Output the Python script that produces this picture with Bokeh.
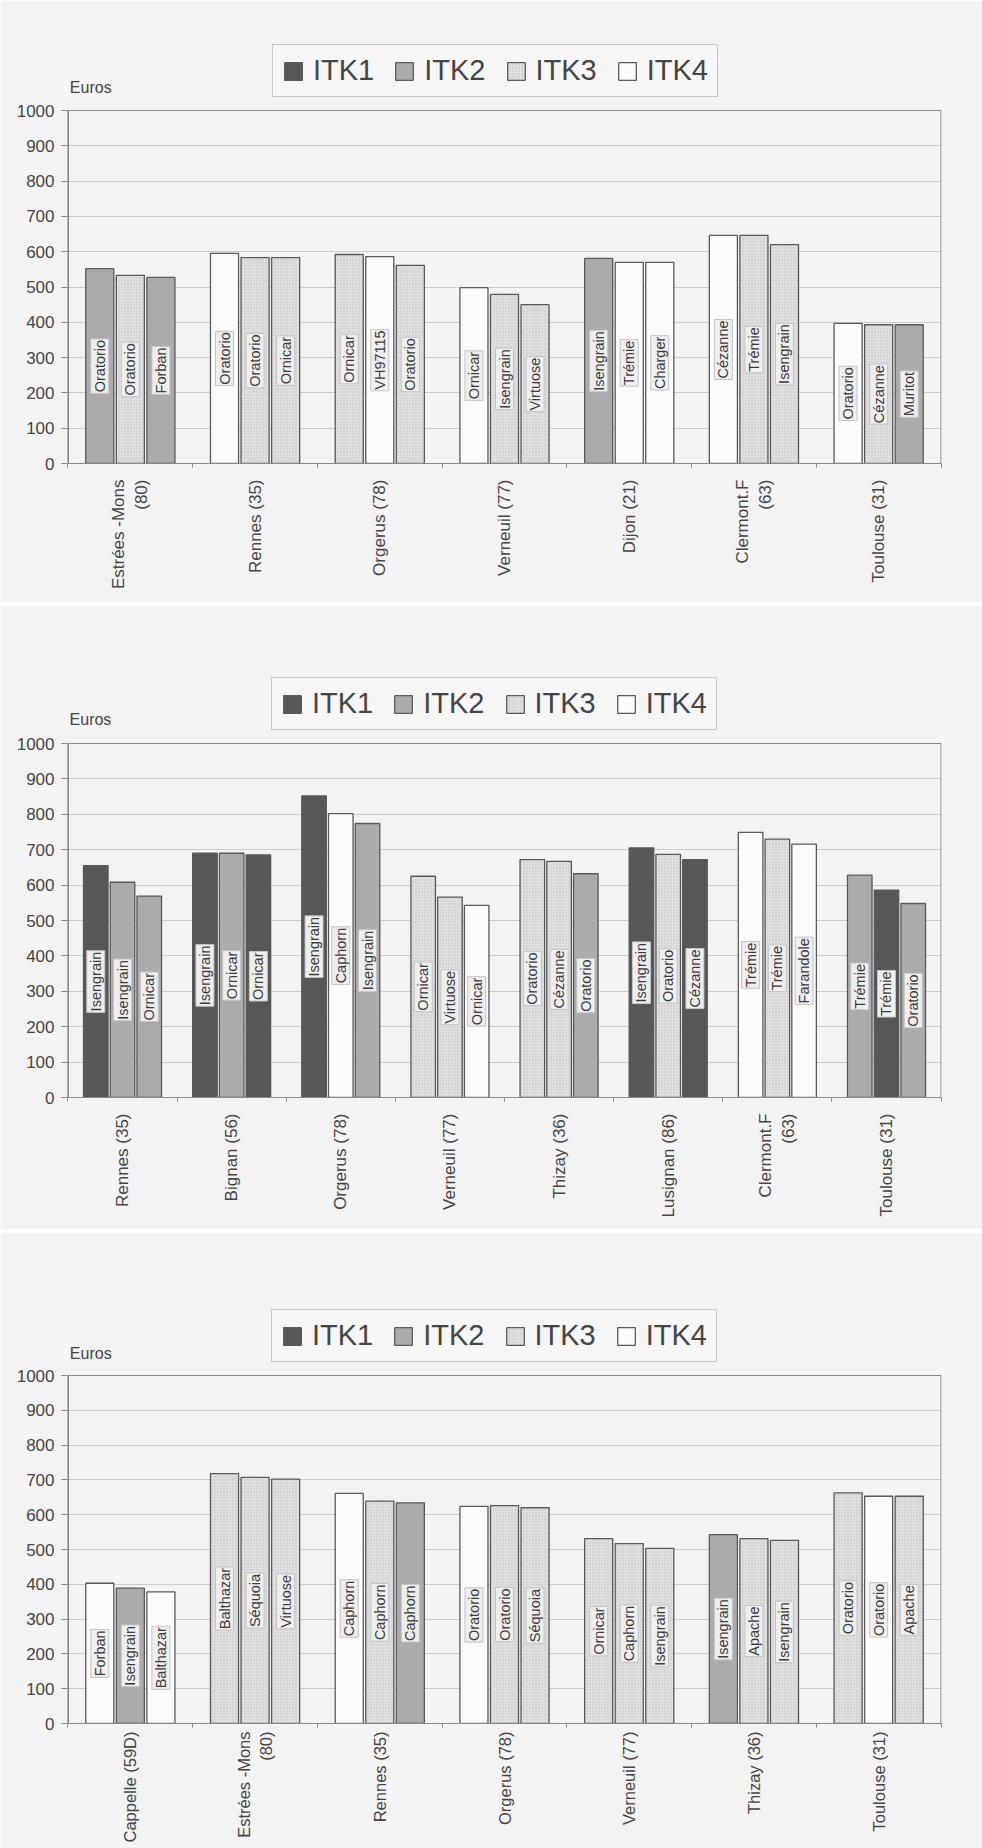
import math
from bokeh.plotting import figure
from bokeh.models import FixedTicker, Legend, LegendItem, Label, Range1d
from bokeh.layouts import column
from bokeh.embed import file_html
from bokeh.resources import INLINE
from bokeh.core.properties import value

SERIES = ["ITK1", "ITK2", "ITK3", "ITK4"]
Y_TICKS = [0, 100, 200, 300, 400, 500, 600, 700, 800, 900, 1000]

# ---------------- Panel 1 ----------------
P1_SITES = ["Estrées -Mons\n(80)", "Rennes (35)", "Orgerus (78)", "Verneuil (77)",
            "Dijon (21)", "Clermont.F\n(63)", "Toulouse (31)"]
P1_VALUES = [[552, 533, 527], [595, 583, 583], [592, 586, 561], [498, 479, 450],
             [581, 570, 570], [646, 646, 620], [397, 393, 393]]
P1_ITK = [["ITK2", "ITK3", "ITK2"], ["ITK4", "ITK3", "ITK3"], ["ITK3", "ITK4", "ITK3"],
          ["ITK4", "ITK3", "ITK3"], ["ITK2", "ITK4", "ITK4"], ["ITK4", "ITK3", "ITK3"],
          ["ITK4", "ITK3", "ITK2"]]
P1_VARIETIES = [["Oratorio", "Oratorio", "Forban"], ["Oratorio", "Oratorio", "Ornicar"],
                ["Ornicar", "VH97115", "Oratorio"], ["Ornicar", "Isengrain", "Virtuose"],
                ["Isengrain", "Trémie", "Charger"], ["Cézanne", "Trémie", "Isengrain"],
                ["Oratorio", "Cézanne", "Muritot"]]

# ---------------- Panel 2 ----------------
P2_SITES = ["Rennes (35)", "Bignan (56)", "Orgerus (78)", "Verneuil (77)", "Thizay (36)",
            "Lusignan (86)", "Clermont.F\n(63)", "Toulouse (31)"]
P2_VALUES = [[655, 608, 569], [690, 690, 685], [852, 802, 774], [625, 566, 543],
             [672, 667, 632], [705, 687, 672], [749, 730, 716], [628, 586, 548]]
P2_ITK = [["ITK1", "ITK2", "ITK2"], ["ITK1", "ITK2", "ITK1"], ["ITK1", "ITK4", "ITK2"],
          ["ITK3", "ITK3", "ITK4"], ["ITK3", "ITK3", "ITK2"], ["ITK1", "ITK3", "ITK1"],
          ["ITK4", "ITK3", "ITK4"], ["ITK2", "ITK1", "ITK2"]]
P2_VARIETIES = [["Isengrain", "Isengrain", "Ornicar"], ["Isengrain", "Ornicar", "Ornicar"],
                ["Isengrain", "Caphorn", "Isengrain"], ["Ornicar", "Virtuose", "Ornicar"],
                ["Oratorio", "Cézanne", "Oratorio"], ["Isengrain", "Oratorio", "Cézanne"],
                ["Trémie", "Trémie", "Farandole"], ["Trémie", "Trémie", "Oratorio"]]

# ---------------- Panel 3 ----------------
P3_SITES = ["Cappelle (59D)", "Estrées -Mons\n(80)", "Rennes (35)", "Orgerus (78)",
            "Verneuil (77)", "Thizay (36)", "Toulouse (31)"]
P3_VALUES = [[403, 389, 378], [718, 707, 702], [661, 639, 634], [624, 626, 620],
             [531, 517, 503], [543, 531, 526], [663, 653, 653]]
P3_ITK = [["ITK4", "ITK2", "ITK4"], ["ITK3", "ITK3", "ITK3"], ["ITK4", "ITK3", "ITK2"],
          ["ITK4", "ITK3", "ITK3"], ["ITK3", "ITK3", "ITK3"], ["ITK2", "ITK3", "ITK3"],
          ["ITK3", "ITK4", "ITK3"]]
P3_VARIETIES = [["Forban", "Isengrain", "Balthazar"], ["Balthazar", "Séquoia", "Virtuose"],
                ["Caphorn", "Caphorn", "Caphorn"], ["Oratorio", "Oratorio", "Séquoia"],
                ["Ornicar", "Caphorn", "Isengrain"], ["Isengrain", "Apache", "Isengrain"],
                ["Oratorio", "Oratorio", "Apache"]]

# ---------------- Styles ----------------
FILL = {"ITK1": "#575757", "ITK2": "#ababab", "ITK3": "#e0e0e0", "ITK4": "#fbfbfb"}
FONT = "Liberation Sans"
BG = "#f3f3f3"
TXT = "#454545"
BAR_W = 0.225
BAR_STEP = 0.245
PAD = 0.004


def make_panel(sites, values, itks, varieties, height, borders, y_top, legend_loc,
               euros_y, site_font, site_standoff):
    n = len(sites)
    left, right, top, bottom = borders
    p = figure(width=982, height=height, x_range=Range1d(-PAD, n + PAD),
               y_range=Range1d(0, y_top),
               output_backend="svg", toolbar_location=None,
               min_border_left=left, min_border_right=right,
               min_border_top=top, min_border_bottom=bottom)
    p.background_fill_color = BG
    p.border_fill_color = BG
    p.outline_line_color = None

    # plot-area border (0..n, 0..1000)
    p.quad(left=[0], right=[n], bottom=[0], top=[1000], fill_color=None,
           line_color="#8a8a8a", line_width=1.2)
    # darker value axis line
    p.segment(x0=[0], y0=[0], x1=[0], y1=[1000], line_color="#6a6a6a", line_width=1.3)

    renderers = {}
    for s in SERIES:
        xs, tops = [], []
        for i, (vals, ks) in enumerate(zip(values, itks)):
            for j, (v, k) in enumerate(zip(vals, ks)):
                if k == s:
                    xs.append(i + 0.5 + (j - 1) * BAR_STEP)
                    tops.append(v)
        if not xs:
            # series absent from this panel: keep one empty (NaN) row so that
            # its legend swatch is still drawn
            xs, tops = [float("nan")], [float("nan")]
        kw = {}
        if s == "ITK3":
            kw = dict(hatch_pattern="dot", hatch_scale=3, hatch_color="#9a9a9a",
                      hatch_alpha=0.45, hatch_weight=0.6)
        r = p.vbar(x=xs, top=tops, bottom=0, width=BAR_W, fill_color=FILL[s],
                   line_color="#595959", line_width=1.3, **kw)
        renderers[s] = r

    lx, ly, lt = [], [], []
    for i, (vals, names) in enumerate(zip(values, varieties)):
        for j, (v, nm) in enumerate(zip(vals, names)):
            lx.append(i + 0.5 + (j - 1) * BAR_STEP)
            ly.append(v / 2.0)
            lt.append(nm)
    p.text(x=lx, y=ly, text=lt, angle=math.pi / 2, text_align="center",
           text_baseline="middle", text_font=value(FONT), text_font_size="14.5px",
           text_color="#3c3c3c", background_fill_color="#eeeeee",
           border_line_color="#c4c4c4", border_line_width=1, padding=1)

    # axes
    xa = p.xaxis[0]
    xa.ticker = FixedTicker(ticks=[i + 0.5 for i in range(n)],
                            minor_ticks=list(range(n + 1)))
    xa.major_label_overrides = {i + 0.5: s for i, s in enumerate(sites)}
    xa.major_label_orientation = math.pi / 2
    xa.major_tick_line_color = None
    xa.major_tick_out = 0
    xa.major_tick_in = 0
    xa.minor_tick_line_color = "#8a8a8a"
    xa.minor_tick_out = 4
    xa.minor_tick_in = 0
    xa.major_label_standoff = site_standoff
    xa.axis_line_color = "#8a8a8a"
    xa.major_label_text_font = FONT
    xa.major_label_text_font_size = site_font
    xa.major_label_text_color = TXT

    ya = p.yaxis[0]
    ya.ticker = FixedTicker(ticks=Y_TICKS)
    ya.axis_line_color = None
    ya.major_tick_line_color = "#8a8a8a"
    ya.major_tick_out = 6
    ya.major_tick_in = 0
    ya.minor_tick_line_color = None
    ya.major_label_standoff = 7
    ya.major_label_text_font = FONT
    ya.major_label_text_font_size = "17px"
    ya.major_label_text_color = TXT

    p.xgrid.visible = False
    p.ygrid.grid_line_color = "#cbcbcb"
    p.ygrid.grid_line_width = 1

    legend = Legend(items=[LegendItem(label=s, renderers=[renderers[s]]) for s in SERIES],
                    orientation="horizontal", location=legend_loc,
                    label_text_font=FONT, label_text_font_size="29px",
                    label_text_color=TXT, glyph_width=22, glyph_height=22,
                    label_standoff=9, spacing=19, padding=9, margin=0,
                    border_line_color="#9a9a9a", border_line_width=1,
                    background_fill_color="#f6f6f6", background_fill_alpha=1)
    p.add_layout(legend)

    p.add_layout(Label(x=0.015, y=euros_y, text="Euros", text_font=FONT,
                       text_font_size="16px", text_color=TXT,
                       text_baseline="alphabetic", text_align="left"))
    return p


# page coords (no body margin): frame left/right, 1000-line, zero-line
p1 = make_panel(P1_SITES, P1_VALUES, P1_ITK, P1_VARIETIES, 602, (67, 36, 10, 139),
                1000 * (463 - 10) / 353, (205, 366), 1065, "17px", 12)
p2 = make_panel(P2_SITES, P2_VALUES, P2_ITK, P2_VARIETIES, 624, (65, 38, 10, 132),
                1000 * (1097 - 615) / 354, (204, 367), 1068, "17px", 12)
p3 = make_panel(P3_SITES, P3_VALUES, P3_ITK, P3_VARIETIES, 616, (67, 41, 10, 125),
                1000 * (1723 - 1242) / 348, (204, 361), 1063, "16.5px", 4)

layout = column(p1, p2, p3, spacing=3)
open("out.html", "w").write(file_html(layout, INLINE))
